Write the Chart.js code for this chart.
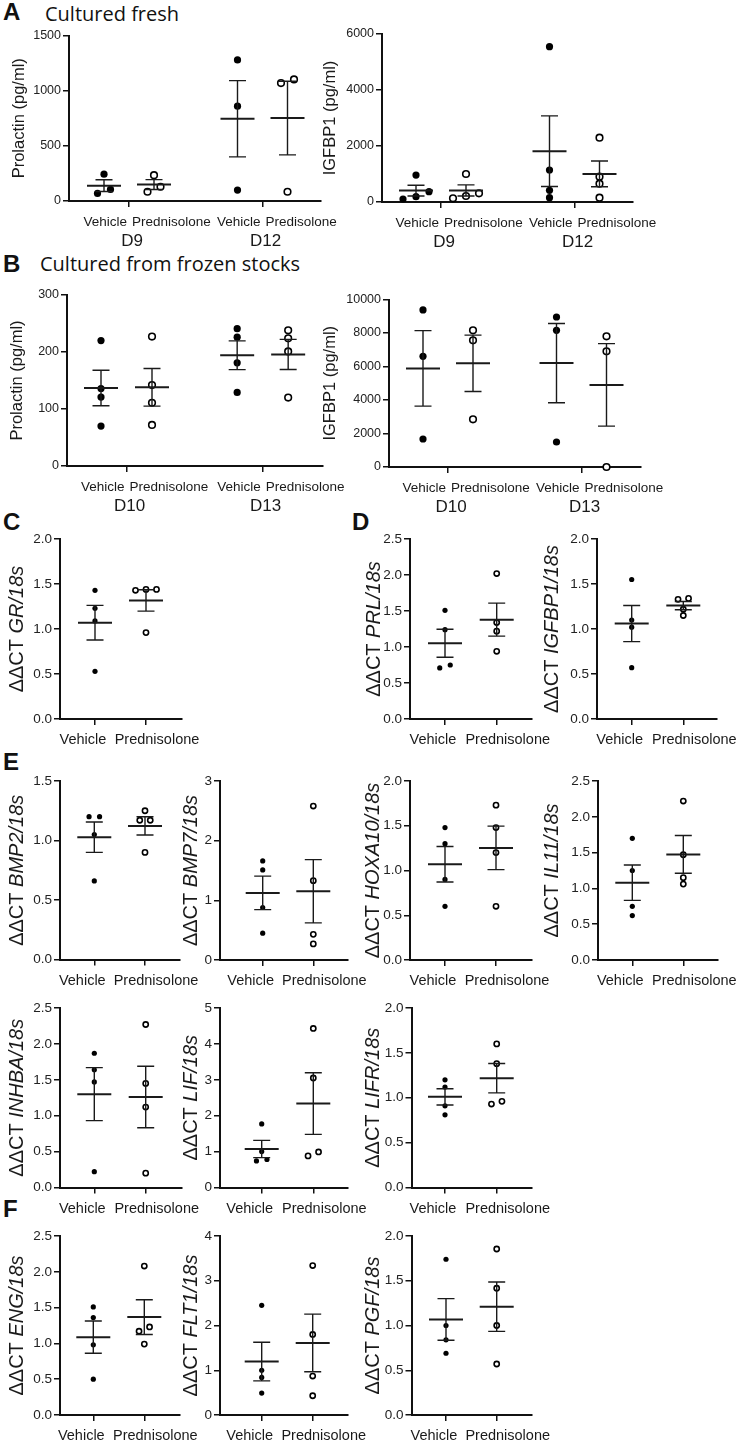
<!DOCTYPE html>
<html>
<head>
<meta charset="utf-8">
<script src="https://cdn.jsdelivr.net/npm/chart.js@4.4.0/dist/chart.umd.min.js"></script>
<style>
  html, body { margin: 0; padding: 0; background: #fff; }
  #page { position: relative; width: 739px; height: 1445px; overflow: hidden; }
  #page canvas { position: absolute; }
  .tag { position: absolute; font-family: 'Liberation Sans', Arial, sans-serif; font-weight: bold; font-size: 24px; line-height: 1; color: #111; }
  .head { position: absolute; font-family: 'Open Sans', sans-serif; font-size: 20px; line-height: 1; color: #111; white-space: nowrap; }
</style>
</head>
<body>
<div id="page">
  <div class="tag" style="left:3px;top:0px">A</div>
  <div class="head" style="left:45px;top:4px">Cultured fresh</div>
  <div class="tag" style="left:3px;top:252px">B</div>
  <div class="head" style="left:40px;top:254px">Cultured from frozen stocks</div>
  <div class="tag" style="left:3px;top:510px">C</div>
  <div class="tag" style="left:352px;top:510px">D</div>
  <div class="tag" style="left:3px;top:750px">E</div>
  <div class="tag" style="left:3px;top:1197px">F</div>
</div>
<script>
// ── Categories ─────────────────────────────────────────────────────────
var freshGroups = ["Vehicle", "Prednisolone", "Vehicle", "Predisolone"];
var frozenGroups = ["Vehicle", "Prednisolone", "Vehicle", "Prednisolone"];
var freshDays = ["D9", "D12"];
var frozenDays = ["D10", "D13"];
var pairGroups = ["Vehicle", "Prednisolone"];

// ── Secreted protein (pg/ml), one list per group ───────────────────────
var prlFresh = [[243, 105, 69], [234, 129, 84], [1279, 859, 99], [1102, 1069, 84]];
var igfFresh = [[960, 370, 190, 107], [1000, 310, 214, 130], [5548, 1143, 417, 155], [2298, 905, 655, 155]];
var prlFrozen = [[220, 136, 121, 70], [227, 142, 111, 72], [241, 226, 181, 129], [238, 224, 201, 120]];
var igfFrozen = [[9380, 6609, 1672], [8160, 7564, 2848], [8955, 8160, 1493], [7800, 6907, 0]];

// ── ΔΔCT relative to 18s: [vehicle, prednisolone] ──────────────────────
var grVals = [[1.43, 1.23, 1.09, 0.53], [1.44, 1.44, 1.43, 0.96]];
var prlVals = [[1.51, 1.24, 0.75, 0.71], [2.02, 1.34, 1.22, 0.94]];
var igfbp1Vals = [[1.55, 1.10, 1.02, 0.57], [1.34, 1.33, 1.22, 1.15]];
var bmp2Vals = [[1.2, 1.2, 1.05, 0.66], [1.25, 1.17, 1.17, 0.9]];
var bmp7Vals = [[1.66, 1.51, 0.88, 0.45], [2.58, 1.33, 0.43, 0.27]];
var hoxa10Vals = [[1.48, 1.30, 0.9, 0.6], [1.73, 1.48, 1.2, 0.6]];
var il11Vals = [[1.70, 1.25, 0.75, 0.62], [2.22, 1.47, 1.15, 1.06]];
var inhbaVals = [[1.87, 1.64, 1.47, 0.22], [2.27, 1.45, 1.12, 0.2]];
var lifVals = [[1.77, 1.0, 0.78, 0.74], [4.43, 3.05, 0.99, 0.88]];
var lifrVals = [[1.2, 1.12, 0.91, 0.81], [1.6, 1.38, 0.96, 0.93]];
var engVals = [[1.51, 1.36, 0.98, 0.5], [2.08, 1.23, 1.17, 0.99]];
var flt1Vals = [[2.45, 1.0, 0.84, 0.49], [3.34, 1.8, 0.87, 0.43]];
var pgfVals = [[1.74, 1.0, 0.84, 0.69], [1.855, 1.416, 1.0, 0.57]];

// ── Y tick values ──────────────────────────────────────────────────────
var ticks1500 = [0, 500, 1000, 1500];
var ticks6000 = [0, 2000, 4000, 6000];
var ticks300 = [0, 100, 200, 300];
var ticks10000 = [0, 2000, 4000, 6000, 8000, 10000];
var ticks15 = [0, 0.5, 1.0, 1.5];
var ticks20 = [0, 0.5, 1.0, 1.5, 2.0];
var ticks25 = [0, 0.5, 1.0, 1.5, 2.0, 2.5];
var ticks3 = [0, 1, 2, 3];
var ticks4 = [0, 1, 2, 3, 4];
var ticks5 = [0, 1, 2, 3, 4, 5];

var FONT = "'Liberation Sans', Arial, sans-serif";
var INK = "#1a1a1a";

// ── Panels: data + where each plot area sits on the page ───────────────
var panels = [
    { vals: prlFresh, ticks: ticks1500, groups: freshGroups, days: freshDays, title: [["Prolactin (pg/ml)", false]],
      geo: { ax: 69, right: 321, top: 35.5, bottom: 201, tx: 19, g1: 104, unit: 50 } },
    { vals: igfFresh, ticks: ticks6000, groups: frozenGroups, days: freshDays, title: [["IGFBP1 (pg/ml)", false]],
      geo: { ax: 382, right: 633, top: 34, bottom: 202, tx: 330, g1: 416, unit: 50 } },
    { vals: prlFrozen, ticks: ticks300, groups: frozenGroups, days: frozenDays, title: [["Prolactin (pg/ml)", false]],
      geo: { ax: 67, right: 323, top: 295, bottom: 466, tx: 17, g1: 101, unit: 51 } },
    { vals: igfFrozen, ticks: ticks10000, groups: frozenGroups, days: frozenDays, title: [["IGFBP1 (pg/ml)", false]],
      geo: { ax: 389, right: 641, top: 299.5, bottom: 467, tx: 330, g1: 423, unit: 50 } },
    { vals: grVals, ticks: ticks20, gene: "GR", geo: { ax: 60, right: 181.5, top: 539, bottom: 719, tx: 17, g1: 95, unit: 51 } },
    { vals: prlVals, ticks: ticks25, gene: "PRL", geo: { ax: 410, right: 531.5, top: 539, bottom: 719, tx: 374, g1: 445, unit: 51.7 } },
    { vals: igfbp1Vals, ticks: ticks20, gene: "IGFBP1", geo: { ax: 597, right: 717, top: 539, bottom: 719, tx: 552, g1: 631.7, unit: 51.6 } },
    { vals: bmp2Vals, ticks: ticks15, gene: "BMP2", geo: { ax: 60, right: 180, top: 781, bottom: 959.5, tx: 17, g1: 94.3, unit: 50.7 } },
    { vals: bmp7Vals, ticks: ticks3, gene: "BMP7", geo: { ax: 220, right: 348, top: 781, bottom: 960, tx: 191, g1: 262.7, unit: 50.6 } },
    { vals: hoxa10Vals, ticks: ticks20, gene: "HOXA10", geo: { ax: 410, right: 531.5, top: 781, bottom: 960, tx: 373, g1: 445, unit: 51 } },
    { vals: il11Vals, ticks: ticks25, gene: "IL11", geo: { ax: 598, right: 718, top: 781, bottom: 960, tx: 552, g1: 632.3, unit: 51 } },
    { vals: inhbaVals, ticks: ticks25, gene: "INHBA", geo: { ax: 60, right: 181.5, top: 1008, bottom: 1187.5, tx: 17, g1: 94.3, unit: 51.4 } },
    { vals: lifVals, ticks: ticks5, gene: "LIF", geo: { ax: 220, right: 348, top: 1008, bottom: 1187.5, tx: 191, g1: 261.7, unit: 51.6 } },
    { vals: lifrVals, ticks: ticks20, gene: "LIFR", geo: { ax: 411.5, right: 531.5, top: 1008, bottom: 1187.5, tx: 373, g1: 445, unit: 51.7 } },
    { vals: engVals, ticks: ticks25, gene: "ENG", geo: { ax: 60, right: 180, top: 1236, bottom: 1415, tx: 17, g1: 93.3, unit: 51 } },
    { vals: flt1Vals, ticks: ticks4, gene: "FLT1", geo: { ax: 220, right: 348, top: 1236, bottom: 1415, tx: 191, g1: 261.7, unit: 51 } },
    { vals: pgfVals, ticks: ticks20, gene: "PGF", geo: { ax: 411.5, right: 531.5, top: 1236, bottom: 1415, tx: 373, g1: 446, unit: 50.7 } }
];

// ── Side-by-side offsets for touching symbols (px), low value on the left
function spread(vals, pxPerVal, gap, step) {
    var order = vals.map(function (v, i) { return i; }).sort(function (a, b) { return vals[a] - vals[b]; });
    var off = vals.map(function () { return 0; });
    var cluster = [order[0]];
    function flush() {
        cluster.forEach(function (idx, k) { off[idx] = (k - (cluster.length - 1) / 2) * step; });
    }
    for (var k = 1; k < order.length; k++) {
        if ((vals[order[k]] - vals[order[k - 1]]) * pxPerVal < gap) {
            cluster.push(order[k]);
        } else {
            flush();
            cluster = [order[k]];
        }
    }
    flush();
    return off;
}

// ── Mean ± SEM bars ────────────────────────────────────────────────────
var meanSem = {
    id: "meanSem",
    afterDatasetsDraw: function (chart, args, o) {
        var ctx = chart.ctx, x = chart.scales.x, y = chart.scales.y;
        ctx.save();
        ctx.strokeStyle = INK;
        o.sets.forEach(function (vals, i) {
            var n = vals.length;
            var m = vals.reduce(function (a, b) { return a + b; }, 0) / n;
            var sd = Math.sqrt(vals.reduce(function (a, b) { return a + (b - m) * (b - m); }, 0) / (n - 1));
            var se = sd / Math.sqrt(n);
            var px = x.getPixelForValue(o.pos[i]);
            var yt = y.getPixelForValue(m + se), yb = y.getPixelForValue(m - se), ym = y.getPixelForValue(m);
            ctx.lineWidth = 1.4;
            ctx.beginPath();
            ctx.moveTo(px, yt); ctx.lineTo(px, yb);
            ctx.moveTo(px - 8.5, yt); ctx.lineTo(px + 8.5, yt);
            ctx.moveTo(px - 8.5, yb); ctx.lineTo(px + 8.5, yb);
            ctx.stroke();
            ctx.lineWidth = 2;
            ctx.beginPath();
            ctx.moveTo(px - 17, ym); ctx.lineTo(px + 17, ym);
            ctx.stroke();
        });
        ctx.restore();
    }
};

// ── Category labels and the rotated y title ────────────────────────────
var panelText = {
    id: "panelText",
    afterDraw: function (chart, args, o) {
        var ctx = chart.ctx, ca = chart.chartArea, x = chart.scales.x;
        ctx.save();
        ctx.fillStyle = INK;
        ctx.textBaseline = "middle";
        if (o.days) {
            o.days.forEach(function (d, i) {
                var t = x.getPixelForValue(o.tickAt[i]);
                ctx.font = "13.5px " + FONT;
                ctx.textAlign = "right";
                ctx.fillText(o.groups[2 * i], t - 2, ca.bottom + 21);
                ctx.textAlign = "left";
                ctx.fillText(o.groups[2 * i + 1], t + 3, ca.bottom + 21);
                ctx.font = "17px " + FONT;
                ctx.textAlign = "center";
                ctx.fillText(d, t + 3, ca.bottom + 40);
            });
        } else {
            ctx.font = "14.5px " + FONT;
            ctx.textAlign = "center";
            ctx.fillText(o.groups[0], x.getPixelForValue(o.tickAt[0]) - 12, ca.bottom + 21);
            ctx.fillText(o.groups[1], x.getPixelForValue(o.tickAt[1]) + 11, ca.bottom + 21);
        }
        // y title, mixed upright / italic pieces
        ctx.translate(o.tx, (ca.top + ca.bottom) / 2);
        ctx.rotate(-Math.PI / 2);
        ctx.textAlign = "left";
        var total = 0;
        o.title.forEach(function (s) {
            ctx.font = (s[1] ? "italic " : "") + o.titleSize + "px " + FONT;
            total += ctx.measureText(s[0]).width;
        });
        var cx = -total / 2;
        o.title.forEach(function (s) {
            ctx.font = (s[1] ? "italic " : "") + o.titleSize + "px " + FONT;
            ctx.fillText(s[0], cx, 0);
            cx += ctx.measureText(s[0]).width;
        });
        ctx.restore();
    }
};

// ── Build one panel ────────────────────────────────────────────────────
function makePanel(p) {
    var g = p.geo;
    var quad = p.vals.length === 4;
    var pos = quad ? [1, 2, 3.67, 4.67] : [1, 2];
    var tickAt = quad ? [1.5, 4.17] : [1, 2];
    var xmin = 1 - (g.g1 - g.ax) / g.unit;
    var xmax = xmin + (g.right - g.ax) / g.unit;
    var ymax = p.ticks[p.ticks.length - 1];
    var pxPerVal = (g.bottom - g.top) / ymax;
    var big = quad;
    var radius = big ? 3.6 : 2.6;
    var step = big ? 13 : 10.5;
    var gap = big ? 6.5 : 6;

    var cLeft = Math.floor(g.tx - 14), cTop = Math.floor(g.top - 14);
    var cRight = Math.ceil(g.right + 45), cBottom = Math.ceil(g.bottom + 52);
    var cv = document.createElement("canvas");
    cv.width = cRight - cLeft;
    cv.height = cBottom - cTop;
    cv.style.left = cLeft + "px";
    cv.style.top = cTop + "px";
    cv.style.width = cv.width + "px";
    cv.style.height = cv.height + "px";
    document.getElementById("page").appendChild(cv);

    var datasets = p.vals.map(function (vals, gi) {
        var off = spread(vals, pxPerVal, gap, step);
        var open = gi % 2 === 1;
        return {
            data: vals.map(function (v, i) { return { x: pos[gi] + off[i] / g.unit, y: v }; }),
            pointRadius: open ? (big ? 3.3 : 2.6) : radius,
            pointBackgroundColor: open ? "#fff" : "#000",
            pointBorderColor: "#000",
            pointBorderWidth: open ? 1.6 : 0,
            showLine: false,
            clip: false
        };
    });

    var title = p.title || [["\u0394\u0394CT ", false], [p.gene + "/18s", true]];
    var axisLine = { display: true, color: "#111", width: 2 };
    var tickMarks = { display: true, drawOnChartArea: false, drawTicks: true, tickLength: 6, color: "#111", lineWidth: 1.5 };

    new Chart(cv, {
        type: "scatter",
        data: { datasets: datasets },
        plugins: [meanSem, panelText],
        options: {
            responsive: false,
            animation: false,
            devicePixelRatio: 1,
            events: [],
            layout: { padding: { left: 0, top: g.top - cTop, right: cRight - g.right, bottom: 0 } },
            scales: {
                x: {
                    type: "linear", min: xmin, max: xmax,
                    afterBuildTicks: function (s) { s.ticks = tickAt.map(function (v) { return { value: v }; }); },
                    afterFit: function (s) { s.height = cBottom - g.bottom; },
                    ticks: { autoSkip: false, callback: function () { return ""; } },
                    grid: tickMarks,
                    border: axisLine
                },
                y: {
                    min: 0, max: ymax,
                    afterBuildTicks: function (s) { s.ticks = p.ticks.map(function (v) { return { value: v }; }); },
                    afterFit: function (s) { s.width = g.ax - cLeft; },
                    ticks: {
                        autoSkip: false, padding: 2, color: "#222",
                        font: { family: FONT, size: big ? 12.5 : 13.5 },
                        callback: function (v) { return ymax <= 2.5 ? v.toFixed(1) : String(v); }
                    },
                    grid: tickMarks,
                    border: axisLine
                }
            },
            plugins: {
                legend: { display: false },
                tooltip: { enabled: false },
                meanSem: { sets: p.vals, pos: pos },
                panelText: {
                    groups: p.groups || pairGroups, days: p.days, tickAt: tickAt,
                    title: title, titleSize: p.title ? 16.5 : 20, tx: g.tx - cLeft
                }
            }
        }
    });
}

panels.forEach(makePanel);
</script>
</body>
</html>
